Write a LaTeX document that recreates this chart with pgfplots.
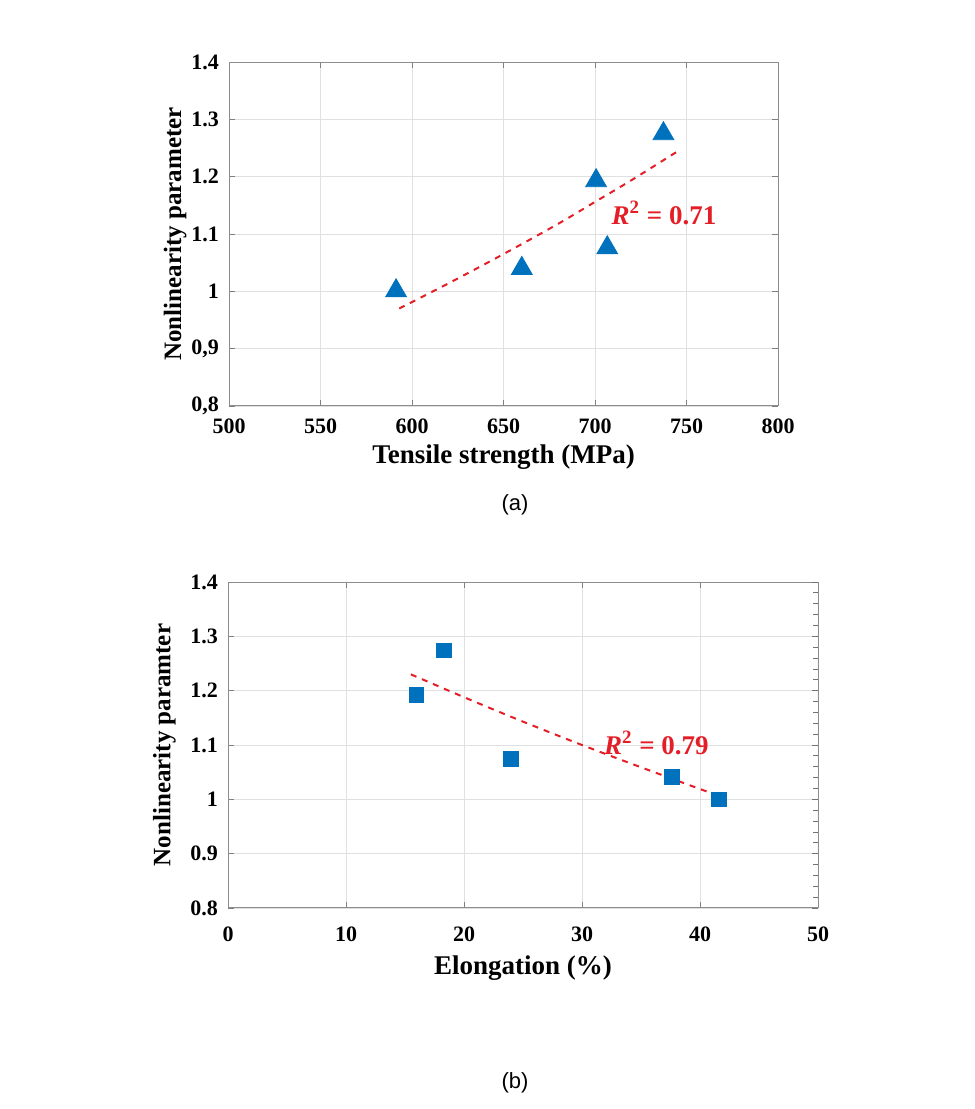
\documentclass[border=0pt]{standalone}
\usepackage{pgfplots}
\pgfplotsset{compat=1.18}
\usepackage{fontspec}
\setmainfont{Liberation Serif}
\newfontfamily\capfont{Liberation Sans}
\definecolor{mblue}{RGB}{0,114,189}
\definecolor{fitred}{RGB}{228,30,38}
\pgfplotsset{
  myax/.style={
    anchor=south west, scale only axis,
    grid=major, major grid style={black!12},
    axis line style={black!45, line width=0.5pt},
    tick style={black!50}, tick align=inside,
    major tick length=3pt,
    /pgf/number format/assume math mode=true,
    ticklabel style={font=\bfseries\fontsize{11}{13}\selectfont},
    yticklabel style={xshift=-1.5pt},
    xlabel style={font=\bfseries\fontsize{13.5}{15}\selectfont},
    ylabel style={font=\bfseries\fontsize{12.5}{14}\selectfont},
  }
}
\begin{document}
\begin{tikzpicture}
\path (0pt,0pt) rectangle (487.5pt,554.5pt);
% (a)
\begin{axis}[myax, at={(114.5pt,351.5pt)}, width=274.5pt, height=172pt,
  xmin=500, xmax=800, ymin=0.8, ymax=1.4,
  xtick={500,550,...,800},
  ytick={0.8,0.9,1,1.1,1.2,1.3,1.4},
  yticklabels={0{,}8,0{,}9,1,1.1,1.2,1.3,1.4},
  xticklabel style={yshift=-3pt},
  xlabel={Tensile strength (MPa)},
  ylabel={Nonlinearity parameter},
  xlabel style={at={(axis description cs:0.5,-0.148)}, anchor=center},
  ylabel style={at={(axis description cs:-0.098,0.5)}, anchor=center},
]
\addplot[only marks, mark=triangle*, mark size=6pt, mblue, mark options={fill=mblue, draw=mblue}]
  coordinates {(591.3,1.001) (660,1.040) (700.6,1.193) (706.7,1.076) (737.4,1.275)};
\addplot[fitred, dashed, line width=1pt, smooth]
  coordinates {(593,0.970) (620,1.014) (650,1.065) (680,1.118) (700,1.156) (720,1.194) (746,1.246)};
\node[fitred, font=\bfseries\fontsize{13.5}{15}\selectfont] at (axis cs:737.7,1.137) {\textit{R}\textsuperscript{2} = 0.71};
\end{axis}
\node[font=\capfont\fontsize{11}{13}\selectfont] at (257.5pt,302pt) {(a)};
% (b)
\begin{axis}[myax, at={(114pt,100.5pt)}, width=295pt, height=163pt,
  xmin=0, xmax=50, ymin=0.8, ymax=1.4,
  xtick={0,10,...,50},
  ytick={0.8,0.9,1,1.1,1.2,1.3,1.4},
  yticklabels={0.8,0.9,1,1.1,1.2,1.3,1.4},
  xticklabel style={yshift=-6pt},
  xlabel={Elongation (\%)},
  ylabel={Nonlinearity paramter},
  xlabel style={at={(axis description cs:0.5,-0.184)}, anchor=center},
  ylabel style={at={(axis description cs:-0.108,0.5)}, anchor=center},
]
\addplot[only marks, mark=square*, mark size=3.7pt, mblue, mark options={fill=mblue, draw=mblue}]
  coordinates {(15.97,1.192) (18.29,1.274) (23.99,1.075) (37.6,1.041) (41.6,1.000)};
\addplot[fitred, dashed, line width=1pt, smooth]
  coordinates {(15.5,1.230) (20,1.188) (25,1.143) (30,1.100) (35,1.059) (40,1.019) (41.9,1.004)};
\node[fitred, font=\bfseries\fontsize{13.5}{15}\selectfont] at (axis cs:36.3,1.104) {\textit{R}\textsuperscript{2} = 0.79};
\end{axis}
% right-side minor ticks of (b)
\begin{axis}[anchor=south west, scale only axis, at={(114pt,100.5pt)}, width=295pt, height=163pt,
  xmin=0, xmax=50, ymin=0.8, ymax=1.4,
  hide x axis, axis y line*=right, axis line style={black!45, line width=0.5pt},
  ytick={0.8,0.9,1,1.1,1.2,1.3,1.4}, yticklabels={}, minor y tick num=4,
  major tick length=3pt, minor tick length=2.5pt,
  tick style={black!55, line width=0.4pt}, tick align=inside,
]
\end{axis}
\node[font=\capfont\fontsize{11}{13}\selectfont] at (257.5pt,13pt) {(b)};
\end{tikzpicture}
\end{document}
